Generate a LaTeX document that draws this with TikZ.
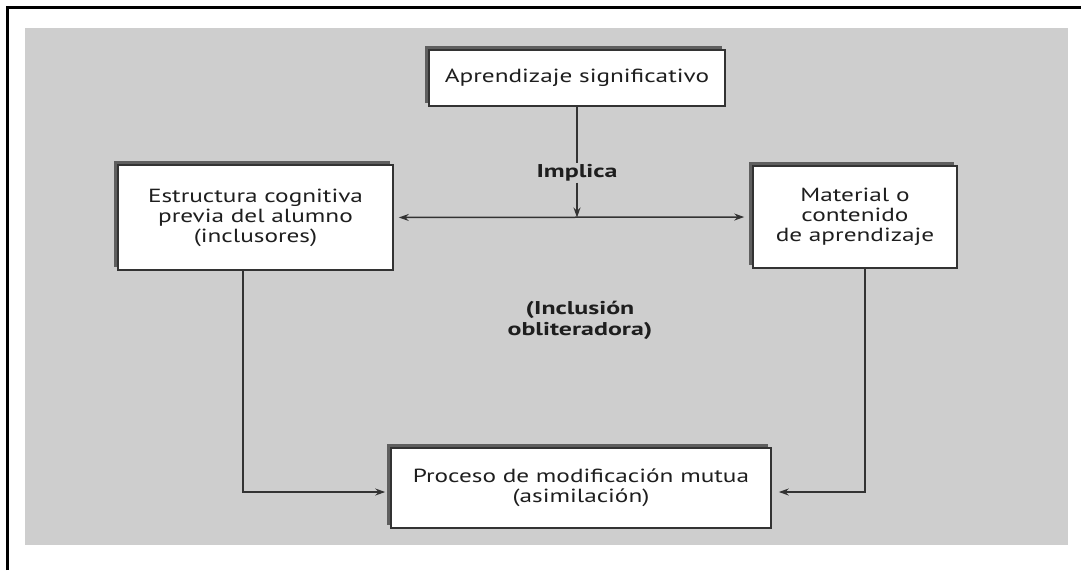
\documentclass[tikz,border=0pt]{standalone}
\usepackage{fontspec}
\setmainfont{PT Sans}[FakeStretch=1.33]
\newfontfamily\lblfont{PT Sans}[FakeStretch=1.4]
\usetikzlibrary{arrows.meta,calc}
\definecolor{bggray}{RGB}{206,206,206}
\definecolor{shadowgray}{RGB}{95,95,95}
\definecolor{txtgray}{RGB}{30,30,30}
\tikzset{
  box/.style={draw=black!80, line width=1.6pt, fill=white, align=center, text=txtgray,
    font=\fontsize{19}{20}\selectfont, inner sep=0pt,
    preaction={draw=shadowgray, fill=shadowgray, line width=1.6pt, transform canvas={xshift=-3.5pt,yshift=3.5pt}}},
  lbl/.style={align=center, text=txtgray, font=\lblfont\fontsize{18.5}{21}\selectfont\bfseries, inner sep=1pt},
  conn/.style={draw=black!80, line width=1.5pt, -{Stealth[length=10pt,width=7pt]}},
}
\begin{document}
\begin{tikzpicture}[x=1pt,y=-1pt]
\useasboundingbox (0,0) rectangle (1081,570);
\fill[bggray] (25,28) rectangle (1068,545);
\draw[black, line width=3pt] (7,570) -- (7,7) -- (1081,7);
\node[box, minimum width=296pt, minimum height=56pt] (top) at (577,78) {Aprendizaje significativo};
\node[box, minimum width=275pt, minimum height=105pt] (left) at (255.5,217.5) {Estructura cognitiva\\previa del alumno\\(inclusores)};
\node[box, minimum width=204pt, minimum height=102pt] (right) at (855,217) {Material o\\contenido\\de aprendizaje};
\node[box, minimum width=380pt, minimum height=80pt] (bottom) at (581,488) {Proceso de modificación mutua\\(asimilación)};
\node[lbl] (impl) at (577,173) {Implica};
\node[lbl] (incl) at (580,320) {(Inclusión\\obliteradora)};
\coordinate (mid) at (left.east -| top.south);
\draw[draw=black!80, line width=1.5pt] (top.south) -- (impl.north);
\draw[conn] (impl.south) -- (mid);
\draw[conn, {Stealth[length=10pt,width=7pt]}-{Stealth[length=10pt,width=7pt]}, shorten <=5pt, shorten >=8pt] (left.east) -- (right.west);
\draw[conn, shorten >=5pt] ([xshift=-12.5pt]left.south) |- ([yshift=-4pt]bottom.west);
\draw[conn, shorten >=7pt] ([xshift=10pt]right.south) |- ([yshift=-4pt]bottom.east);
\end{tikzpicture}
\end{document}
